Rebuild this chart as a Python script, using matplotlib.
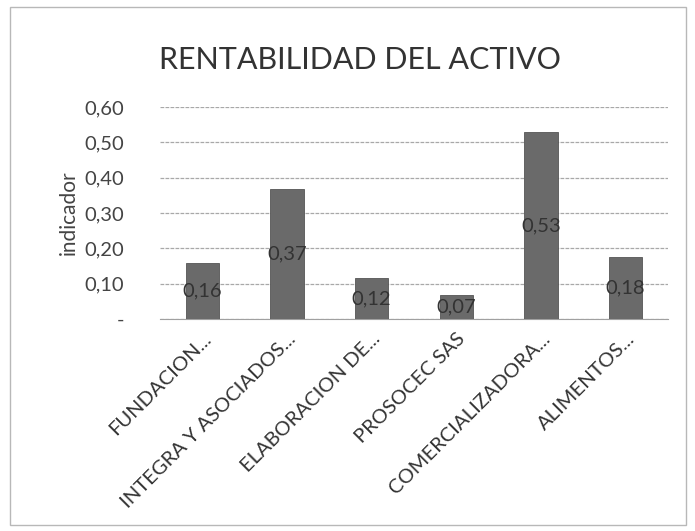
import matplotlib
matplotlib.use("Agg")
import matplotlib.pyplot as plt
from matplotlib.patches import Rectangle

categories = ["FUNDACION...", "INTEGRA Y ASOCIADOS...", "ELABORACION DE...",
              "PROSOCEC SAS", "COMERCIALIZADORA...", "ALIMENTOS..."]
values = [0.158, 0.367, 0.116, 0.068, 0.528, 0.176]
y_ticks = [0.0, 0.1, 0.2, 0.3, 0.4, 0.5, 0.6]
y_tick_labels = ["-", "0,10", "0,20", "0,30", "0,40", "0,50", "0,60"]
title = "RENTABILIDAD DEL ACTIVO"
y_label = "indicador"

plt.rcParams['font.family'] = ['Lato', 'DejaVu Sans']

fig = plt.figure(figsize=(6.95, 5.31), dpi=100)
ax = fig.add_axes([160/695, 1-319/531, (668-160)/695, (319-107)/531])

x = range(len(categories))
bars = ax.bar(x, values, width=0.39, color="#6a6a6a", edgecolor="#555555", linewidth=0.6, zorder=3)
for xi, v in zip(x, values):
    ax.text(xi, v/2, f"{v:.2f}".replace(".", ","), ha="center", va="center",
            fontsize=14.5, color="#333333", zorder=4)

ax.set_xlim(-0.5, len(categories)-0.5)
ax.set_ylim(0, 0.6)
ax.set_yticks(y_ticks)
ax.set_yticklabels(y_tick_labels, fontsize=14.5, color="#444444")
ax.set_xticks(list(x))
ax.set_xticklabels(categories, rotation=45, ha="right", rotation_mode="anchor",
                   fontsize=14.5, color="#333333")
ax.tick_params(axis="y", length=0, pad=26)
ax.tick_params(axis="x", length=0, pad=8)
ax.yaxis.grid(True, color="#a8a8a8", linewidth=0.9, linestyle=(0, (3, 1)), zorder=0)
for s in ["top", "right", "left"]:
    ax.spines[s].set_visible(False)
ax.spines["bottom"].set_color("#a0a0a0")
ax.set_ylabel(y_label, fontsize=15, color="#444444", labelpad=4)

fig.text(0.518, 1-60/531, title, ha="center", va="center", fontsize=22, color="#333333")

fig.patches.append(Rectangle((10/695, 6/531), 676/695, 518/531, transform=fig.transFigure,
                             fill=False, edgecolor="#b8b8b8", linewidth=1))

fig.savefig("out.png", dpi=100)
